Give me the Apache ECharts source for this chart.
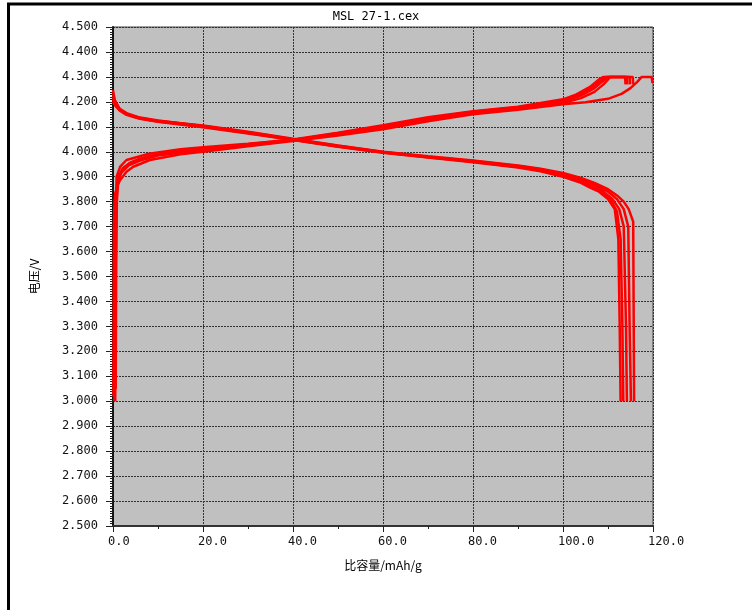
<!DOCTYPE html>
<html>
<head>
<meta charset="utf-8">
<script src="https://cdn.jsdelivr.net/npm/echarts@6/dist/echarts.min.js"></script>
<style>
  html, body { margin: 0; padding: 0; background: #ffffff; }
  #chart { width: 752px; height: 610px; }
</style>
</head>
<body>
<div id="chart"></div>
<script>
// ---- Data ----
const chartTitle = 'MSL 27-1.cex';
const xName = '比容量/mAh/g';
const yName = '电压/V';
const xRange = [0, 120];
const yRange = [2.5, 4.5];

// Charge curves [capacity mAh/g, voltage V]
const charge1 = [[0.1,3.02],[0.15,3.4],[0.2,3.7],[0.3,3.78],[0.45,3.83],[1.0,3.865],[1.6,3.887],[3,3.92],[4.5,3.94],[8.2,3.967],[15,3.99],[20,4.0],[30,4.022],[40,4.043],[50,4.065],[60,4.09],[70,4.122],[80,4.15],[90,4.168],[100,4.19],[105,4.198],[110,4.212],[113,4.232],[115,4.255],[116.5,4.28],[117.5,4.30],[119.7,4.30],[119.9,4.275]];
const charge2 = [[0.5,3.0],[0.6,3.5],[0.7,3.8],[0.8,3.9],[1.6,3.94],[3,3.967],[8,3.992],[15,4.01],[20,4.018],[30,4.032],[40,4.048],[50,4.07],[60,4.098],[70,4.13],[80,4.155],[90,4.172],[100,4.195],[104,4.215],[107,4.24],[109,4.27],[110.5,4.30],[115.5,4.30],[115.6,4.27]];
const charge3 = [[0.2,3.05],[0.3,3.4],[0.45,3.72],[0.7,3.84],[1.2,3.9],[2.2,3.935],[4,3.958],[8,3.982],[14,4.0],[20,4.012],[30,4.028],[40,4.046],[50,4.072],[60,4.1],[70,4.133],[80,4.157],[90,4.175],[100,4.2],[104,4.225],[107,4.255],[109,4.285],[110,4.30],[114.8,4.30],[114.9,4.27]];
const charge4 = [[0.3,3.0],[0.4,3.5],[0.55,3.78],[0.9,3.87],[1.8,3.915],[3.5,3.945],[6,3.965],[10,3.985],[20,4.008],[30,4.026],[40,4.047],[50,4.074],[60,4.103],[70,4.135],[80,4.16],[90,4.178],[100,4.205],[103,4.225],[106,4.25],[108,4.28],[109.5,4.30],[114.2,4.30],[114.3,4.27]];
const charge5 = [[0.6,3.05],[0.7,3.5],[0.85,3.8],[1.2,3.89],[2.2,3.93],[3.5,3.952],[6,3.972],[10,3.99],[20,4.012],[30,4.03],[40,4.049],[50,4.076],[60,4.106],[70,4.138],[80,4.162],[90,4.18],[100,4.21],[103,4.23],[106,4.26],[108,4.29],[109,4.30],[113.8,4.30],[113.9,4.27]];

// Discharge curves [capacity mAh/g, voltage V]
const discharge1 = [[0,4.247],[0.4,4.207],[1.6,4.167],[4.5,4.14],[8.2,4.127],[15,4.114],[20,4.105],[30,4.08],[40,4.052],[50,4.025],[60,4.0],[70,3.982],[80,3.965],[90,3.945],[95,3.932],[100,3.915],[104,3.895],[107,3.875],[110,3.85],[112,3.825],[113.5,3.80],[114.6,3.77],[115.6,3.72],[115.8,3.0]];
const discharge2 = [[0,4.23],[0.5,4.2],[1.5,4.172],[3,4.155],[6,4.137],[10,4.125],[20,4.103],[30,4.078],[40,4.05],[50,4.024],[60,3.999],[70,3.98],[80,3.963],[90,3.943],[95,3.93],[100,3.91],[104,3.89],[107,3.87],[110,3.84],[112,3.81],[113.5,3.77],[114.5,3.7],[114.8,3.3],[115.1,3.0]];
const discharge3 = [[0,4.22],[0.5,4.195],[1.5,4.17],[3,4.152],[6,4.135],[10,4.123],[20,4.102],[30,4.077],[40,4.049],[50,4.022],[60,3.998],[70,3.979],[80,3.962],[90,3.941],[95,3.927],[100,3.907],[104,3.885],[107,3.863],[109,3.84],[111,3.81],[112.5,3.77],[113.5,3.7],[114,3.3],[114.2,3.0]];
const discharge4 = [[0,4.21],[0.5,4.19],[1.5,4.168],[3,4.15],[6,4.133],[10,4.121],[20,4.1],[30,4.075],[40,4.048],[50,4.021],[60,3.997],[70,3.978],[80,3.96],[90,3.939],[95,3.925],[100,3.904],[104,3.88],[106.5,3.858],[108.5,3.84],[110.5,3.81],[112,3.76],[112.8,3.65],[113.2,3.3],[113.4,3.0]];
const discharge5 = [[0,4.2],[0.5,4.185],[1.5,4.165],[3,4.148],[6,4.132],[10,4.12],[20,4.098],[30,4.073],[40,4.047],[50,4.02],[60,3.996],[70,3.977],[80,3.958],[90,3.937],[95,3.922],[100,3.9],[104,3.875],[106,3.856],[108,3.84],[110,3.81],[111.5,3.77],[112.3,3.65],[112.6,3.3],[112.8,3.0]];

const curves = [charge1, charge2, charge3, charge4, charge5,
                discharge1, discharge2, discharge3, discharge4, discharge5];

// ---- Chart ----
const chart = echarts.init(document.getElementById('chart'), null, { renderer: 'canvas' });
const monoFont = '"DejaVu Sans Mono", "Liberation Mono", monospace';

const option = {
  animation: false,
  backgroundColor: '#ffffff',
  title: {
    text: chartTitle,
    left: 'center',
    top: 6,
    textStyle: { fontFamily: monoFont, fontSize: 12, fontWeight: 'normal', color: '#000' }
  },
  grid: {
    left: 113, right: 99, top: 27, bottom: 84,
    show: true,
    backgroundColor: '#c0c0c0',
    borderColor: '#444',
    borderWidth: 1
  },
  xAxis: {
    type: 'value',
    min: xRange[0], max: xRange[1], interval: 20,
    name: xName,
    nameLocation: 'middle',
    nameGap: 33,
    nameTextStyle: { fontFamily: '"Noto Sans CJK SC", monospace', fontSize: 12, color: '#000' },
    axisLine: { show: true, onZero: false, lineStyle: { color: '#333', width: 2 } },
    axisTick: { show: true, length: 6, lineStyle: { color: '#222', width: 1 } },
    minorTick: { show: true, splitNumber: 2, length: 3, lineStyle: { color: '#222', width: 1 } },
    axisLabel: {
      margin: 10,
      fontFamily: monoFont, fontSize: 12, color: '#111',
      align: 'left',
      padding: [0, 0, 0, -5],
      formatter: v => v.toFixed(1)
    },
    splitLine: { show: true, lineStyle: { color: '#333', width: 1, type: [2, 1] } }
  },
  yAxis: {
    type: 'value',
    min: yRange[0], max: yRange[1], interval: 0.1,
    name: yName,
    nameLocation: 'middle',
    nameGap: 73,
    nameRotate: 90,
    nameTextStyle: { fontFamily: '"Noto Sans CJK SC", monospace', fontSize: 12, color: '#000' },
    axisLine: { show: true, onZero: false, lineStyle: { color: '#111', width: 2 } },
    axisTick: { show: true, length: 7, lineStyle: { color: '#222', width: 1 } },
    minorTick: { show: true, splitNumber: 10, length: 3, lineStyle: { color: '#222', width: 1 } },
    axisLabel: {
      margin: 15,
      fontFamily: monoFont, fontSize: 12, color: '#111',
      formatter: v => v.toFixed(3)
    },
    splitLine: { show: true, lineStyle: { color: '#333', width: 1, type: [2, 1] } }
  },
  graphic: [
    {
      type: 'polyline',
      shape: { points: [[8.5, 610], [8.5, 4], [752, 4]] },
      style: { stroke: '#000', lineWidth: 3, fill: null },
      silent: true
    }
  ],
  series: curves.map(d => ({
    type: 'line',
    data: d,
    showSymbol: false,
    symbol: 'none',
    clip: true,
    lineStyle: { color: '#ff0000', width: 2.5 },
    z: 3
  }))
};
chart.setOption(option);
</script>
</body>
</html>
